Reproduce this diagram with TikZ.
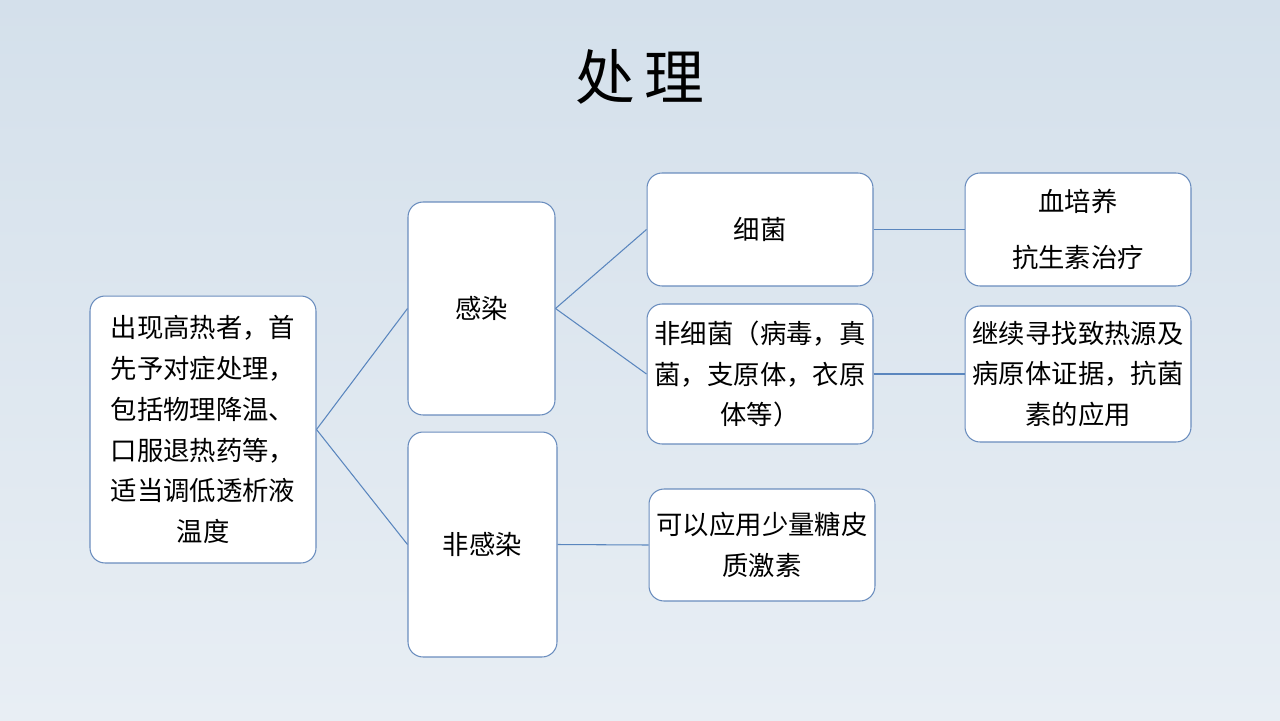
\documentclass[tikz,border=0pt]{standalone}
\usepackage{fontspec}
\setmainfont{Noto Sans CJK SC}
\newfontfamily\cjk{Noto Sans CJK SC}
\definecolor{bgtop}{HTML}{D4E0EB}
\definecolor{bgbot}{HTML}{E8EEF4}
\definecolor{boxline}{HTML}{6A8DBE}
\definecolor{conn}{HTML}{5A86BE}
\tikzset{
  box/.style={draw=boxline, line width=0.6pt, fill=white, rounded corners=0.3cm, align=center, inner sep=0pt,
    font=\cjk\fontsize{15pt}{23.3pt}\selectfont},
  link/.style={draw=conn, line width=0.6pt}
}
\begin{document}
\begin{tikzpicture}[x=0.02cm,y=-0.02cm]
\shade[top color=bgtop, bottom color=bgbot] (0,0) rectangle (1280,720);
\useasboundingbox (0,0) rectangle (1280,720);
\node[font=\cjk\fontsize{34pt}{40pt}\selectfont] (title) at (640,77) {处\,理};
\node[box, minimum width=4.52cm, minimum height=5.34cm] (a) at (203,429.5)
  {出现高热者，首\\先予对症处理，\\包括物理降温、\\口服退热药等，\\适当调低透析液\\温度};
\node[box, minimum width=2.94cm, minimum height=4.26cm] (b) at (481.5,308.5) {感染};
\node[box, minimum width=2.98cm, minimum height=4.5cm] (c) at (482.5,544.5) {非感染};
\node[box, minimum width=4.52cm, minimum height=2.26cm] (d) at (760,229.5) {细菌};
\node[box, minimum width=4.52cm, minimum height=2.8cm] (e) at (760,374) {非细菌（病毒，真\\菌，支原体，衣原\\体等）};
\node[box, minimum width=4.52cm, minimum height=2.26cm, font=\cjk\fontsize{15pt}{32.4pt}\selectfont] (f) at (1078,229.5) {血培养\\抗生素治疗};
\node[box, minimum width=4.52cm, minimum height=2.72cm] (g) at (1078,374) {继续寻找致热源及\\病原体证据，抗菌\\素的应用};
\node[box, minimum width=4.52cm, minimum height=2.24cm] (h) at (762,545) {可以应用少量糖皮\\质激素};
\draw[link] (a.east) -- (b.west);
\draw[link] (a.east) -- (c.west);
\draw[link] (b.east) -- (d.west);
\draw[link] (b.east) -- (e.west);
\draw[link] (c.east) -- (h.west);
\draw[link] (d.east) -- (f.west);
\draw[link] (e.east) -- (g.west);
\end{tikzpicture}
\end{document}
